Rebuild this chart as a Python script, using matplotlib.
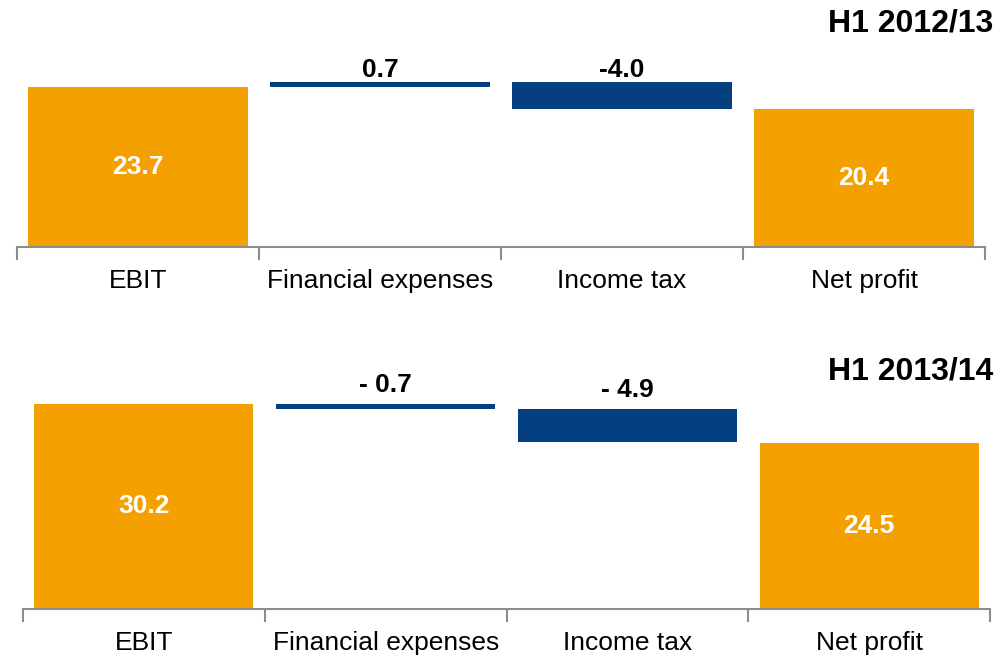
import matplotlib.pyplot as plt

plt.rcParams['font.family'] = ['Liberation Sans', 'DejaVu Sans']

# data
categories = ['EBIT', 'Financial expenses', 'Income tax', 'Net profit']
periods = ['H1 2012/13', 'H1 2013/14']
ebit = [23.7, 30.2]
fin_exp = [0.7, -0.7]
income_tax = [-4.0, -4.9]
net_profit = [20.4, 24.5]
delta_labels = [['0.7', '-4.0'], ['- 0.7', '- 4.9']]

orange = '#F3A000'
blue = '#043F7F'
grey = '#8C8C8C'

W, H = 1005, 656
fig = plt.figure(figsize=(W / 100, H / 100), dpi=100)


def px_box(left, right, base, top):
    return [left / W, (H - base) / H, (right - left) / W, (base - top) / H]


# axes boxes in pixels: left, right, baseline, top ; and y-limit
boxes = [(17, 985, 247, 60, 27.7), (23, 990, 609, 380, 33.7)]
title_pos = [(993, 23), (993, 372)]
label_offset = [0, 5]

for p in range(2):
    left, right, base, top, ymax = boxes[p]
    ax = fig.add_axes(px_box(left, right, base, top))

    start = ebit[p]
    after_fin = start + fin_exp[p]
    # waterfall bars: (bottom, height, colour)
    bottoms = [0, min(start, after_fin), min(after_fin, after_fin + income_tax[p]), 0]
    heights = [start, abs(fin_exp[p]), abs(income_tax[p]), net_profit[p]]
    colors = [orange, blue, blue, orange]
    ax.bar(range(4), heights, bottom=bottoms, width=0.905, color=colors)

    # totals inside orange bars
    for i, v in [(0, ebit[p]), (3, net_profit[p])]:
        ax.text(i, v / 2, f'{v:.1f}', ha='center', va='center',
                color='white', fontsize=19, fontweight='bold')

    # delta labels above blue bars
    for k, i in enumerate([1, 2]):
        y = bottoms[i] + heights[i]
        ax.annotate(delta_labels[p][k], (i, y), xytext=(0, label_offset[p]),
                    textcoords='offset points', ha='center', va='bottom',
                    fontsize=19, fontweight='bold', color='black')

    ax.set_xlim(-0.5, 3.5)
    ax.set_ylim(0, ymax)
    for s in ['top', 'right', 'left']:
        ax.spines[s].set_visible(False)
    ax.spines['bottom'].set_color(grey)
    ax.spines['bottom'].set_linewidth(1.5)
    ax.set_yticks([])
    ax.set_xticks(range(4))
    ax.set_xticklabels(categories, fontsize=19)
    ax.tick_params(axis='x', which='major', length=0, pad=16)
    ax.set_xticks([-0.5, 0.5, 1.5, 2.5, 3.5], minor=True)
    ax.tick_params(axis='x', which='minor', length=9, width=1.5,
                   color=grey, direction='out')

    tx, ty = title_pos[p]
    fig.text(tx / W, 1 - ty / H, periods[p], ha='right', va='center',
             fontsize=23, fontweight='bold')

fig.savefig('out.png', dpi=100)
